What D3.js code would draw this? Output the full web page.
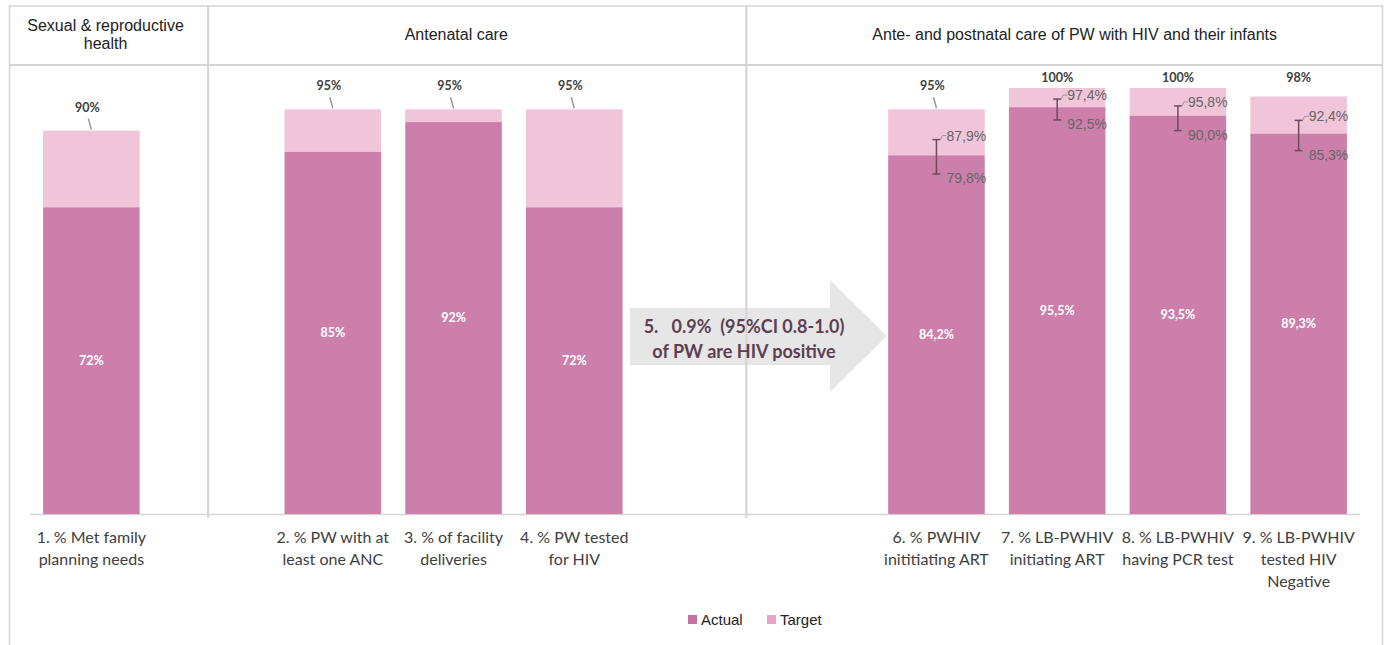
<!DOCTYPE html>
<html><head><meta charset="utf-8">
<script src="https://cdn.jsdelivr.net/npm/d3@7"></script>
<style>
html,body{margin:0;padding:0;background:#fff;}
svg{display:block;}
text{white-space:pre;}
</style></head>
<body>
<svg id="chart" width="1387" height="645"></svg>
<script>
// ---- data ----
const categories = ["1", "2", "3", "4", "6", "7", "8", "9"];
const categoryLabels = [
  ["1. % Met family", "planning needs"],
  ["2. % PW with at", "least one ANC"],
  ["3. % of facility", "deliveries"],
  ["4. % PW tested", "for HIV"],
  ["6. % PWHIV", "inititiating ART"],
  ["7. % LB-PWHIV", "initiating ART"],
  ["8. % LB-PWHIV", "having PCR test"],
  ["9. % LB-PWHIV", "tested HIV", "Negative"]
];
const actual = [72, 85, 92, 72, 84.2, 95.5, 93.5, 89.3];
const target = [90, 95, 95, 95, 95, 100, 100, 98];
const ciCategories = ["6", "7", "8", "9"];
const ciLower = [79.8, 92.5, 90.0, 85.3];
const ciUpper = [87.9, 97.4, 95.8, 92.4];
const groups = [
  {name: ["Sexual & reproductive", "health"], from: "1", to: "1"},
  {name: ["Antenatal care"], from: "2", to: "4"},
  {name: ["Ante- and postnatal care of PW with HIV and their infants"], from: "6", to: "9"}
];
const arrowText = ["5.   0.9%  (95%CI 0.8-1.0)", "of PW are HIV positive"];
const legendItems = ["Actual", "Target"];
const yTicks = [0, 100];

// ---- colours ----
const cActual = "#cd7fab", cTarget = "#f0c4d9";
const cLegActual = "#c472a2", cLegTarget = "#e9a2c9";
const cGrid = "#d4d4d4";

const svg = d3.select("#chart");

// slots with gaps for the layout
const slots = ["1", "g1", "2", "3", "4", "g2", "g3", "6", "7", "8", "9"];
const x = d3.scaleBand().domain(slots).range([31, 1359]).paddingInner(0.2).paddingOuter(0.1);
const y = d3.scaleLinear().domain(d3.extent(yTicks)).range([514, 88]);

const data = categories.map((c, i) => ({c, a: actual[i], t: target[i], lab: categoryLabels[i]}));

// frame
svg.append("line").attr("x1", 9.5).attr("x2", 9.5).attr("y1", 5).attr("y2", 645).attr("stroke", cGrid).attr("stroke-width", 1.5);
svg.append("line").attr("x1", 1382.5).attr("x2", 1382.5).attr("y1", 5).attr("y2", 645).attr("stroke", cGrid).attr("stroke-width", 1.5);
svg.append("line").attr("x1", 9).attr("x2", 1383).attr("y1", 6).attr("y2", 6).attr("stroke", cGrid).attr("stroke-width", 1.5);
svg.append("line").attr("x1", 9).attr("x2", 1383).attr("y1", 65).attr("y2", 65).attr("stroke", cGrid).attr("stroke-width", 2);

// arrow (behind dividers)
const ax0 = 630, ax1 = 830, atip = 887, ay = 336;
const ap = d3.path();
ap.moveTo(ax0, 308); ap.lineTo(ax1, 308); ap.lineTo(ax1, 280); ap.lineTo(atip, ay);
ap.lineTo(ax1, 392); ap.lineTo(ax1, 365); ap.lineTo(ax0, 365); ap.closePath();
svg.append("path").attr("d", ap.toString()).attr("fill", "#e6e6e6");

// group dividers
const divX = [(x("1") + x.bandwidth() + x("2")) / 2 - 4, (x("4") + x.bandwidth() + x("6")) / 2 - 9];
divX.forEach(dx => {
  svg.append("line").attr("x1", dx).attr("x2", dx).attr("y1", 6).attr("y2", 518)
    .attr("stroke", cGrid).attr("stroke-width", 2);
});

// arrow text over dividers
arrowText.forEach((t, i) => {
  svg.append("text").attr("x", 744).attr("y", 333 + i * 25).attr("text-anchor", "middle")
    .attr("font-family", "Lato, 'Open Sans', sans-serif").attr("font-weight", "bold").attr("font-size", 18)
    .attr("fill", "#5e3f52").text(t);
});

// header texts
const bounds = [9, divX[0], divX[1], 1383];
const headerShift = [-3, -21, 10];
groups.forEach((g, i) => {
  const cx = (bounds[i] + bounds[i + 1]) / 2 + headerShift[i];
  const n = g.name.length;
  g.name.forEach((line, j) => {
    svg.append("text").attr("x", cx).attr("y", 35 + (j - (n - 1) / 2) * 18 + 5)
      .attr("text-anchor", "middle").attr("font-family", "'Liberation Sans', Arial, sans-serif")
      .attr("font-size", 16).attr("fill", "#222").text(line);
  });
});

// baseline
svg.append("line").attr("x1", 30).attr("x2", 1360).attr("y1", y(0) + 0.5).attr("y2", y(0) + 0.5)
  .attr("stroke", cGrid).attr("stroke-width", 1.5);

// bars
const bars = svg.append("g");
bars.selectAll("rect.t").data(data).join("rect").attr("class", "t")
  .attr("x", d => x(d.c)).attr("width", x.bandwidth())
  .attr("y", d => y(d.t)).attr("height", d => y(d.a) - y(d.t)).attr("fill", cTarget);
bars.selectAll("rect.a").data(data).join("rect").attr("class", "a")
  .attr("x", d => x(d.c)).attr("width", x.bandwidth())
  .attr("y", d => y(d.a)).attr("height", d => y(0) - y(d.a)).attr("fill", cActual);

const fmt = v => Number.isInteger(v) ? v + "%" : v.toFixed(1).replace(".", ",") + "%";

// actual labels
bars.selectAll("text.al").data(data).join("text").attr("class", "al")
  .attr("x", d => x(d.c) + x.bandwidth() / 2).attr("y", d => (y(d.a) + y(0)) / 2 + 4)
  .attr("text-anchor", "middle").attr("font-family", "Lato, 'Open Sans', sans-serif")
  .attr("font-weight", "bold").attr("font-size", 12.5).attr("fill", "#fff").text(d => fmt(d.a));

// target labels
data.forEach(d => {
  const cx = x(d.c) + x.bandwidth() / 2;
  if (d.t >= 98) {
    svg.append("text").attr("x", cx).attr("y", y(100) - 6).attr("text-anchor", "middle")
      .attr("font-family", "Lato, 'Open Sans', sans-serif").attr("font-weight", "bold").attr("font-size", 12.5)
      .attr("fill", "#404040").text(fmt(d.t));
  } else {
    svg.append("text").attr("x", cx - 4).attr("y", y(d.t) - 19).attr("text-anchor", "middle")
      .attr("font-family", "Lato, 'Open Sans', sans-serif").attr("font-weight", "bold").attr("font-size", 12.5)
      .attr("fill", "#404040").text(fmt(d.t));
    svg.append("line").attr("x1", cx - 3).attr("x2", cx).attr("y1", y(d.t) - 12).attr("y2", y(d.t) - 1)
      .attr("stroke", "#9a9a9a").attr("stroke-width", 1.5);
  }
});

// error bars
ciCategories.forEach((c, i) => {
  const cx = x(c) + x.bandwidth() / 2;
  const yl = y(ciLower[i]), yu = y(ciUpper[i]);
  const g = svg.append("g").attr("stroke", "#6e4a5f").attr("stroke-width", 1.5);
  g.append("line").attr("x1", cx).attr("x2", cx).attr("y1", yu).attr("y2", yl);
  g.append("line").attr("x1", cx - 4).attr("x2", cx + 4).attr("y1", yu).attr("y2", yu);
  g.append("line").attr("x1", cx - 4).attr("x2", cx + 4).attr("y1", yl).attr("y2", yl);
  const conn = d3.path();
  conn.moveTo(cx + 4, yu); conn.lineTo(cx + 6, yu - 4); conn.lineTo(cx + 10, yu - 4);
  svg.append("path").attr("d", conn.toString()).attr("fill", "none").attr("stroke", "#999").attr("stroke-width", 1);
  const conn2 = d3.path();
  conn2.moveTo(cx + 4, yl); conn2.lineTo(cx + 6, yl + 4); conn2.lineTo(cx + 10, yl + 4);
  svg.append("path").attr("d", conn2.toString()).attr("fill", "none").attr("stroke", "#999").attr("stroke-width", 1);
  svg.append("text").attr("x", cx + 10).attr("y", yu + 1).attr("font-family", "'Liberation Sans', Arial, sans-serif")
    .attr("font-size", 14).attr("fill", "#666").text(ciUpper[i].toFixed(1).replace(".", ",") + "%");
  svg.append("text").attr("x", cx + 10).attr("y", yl + 9).attr("font-family", "'Liberation Sans', Arial, sans-serif")
    .attr("font-size", 14).attr("fill", "#666").text(ciLower[i].toFixed(1).replace(".", ",") + "%");
});

// category labels
data.forEach(d => {
  const cx = x(d.c) + x.bandwidth() / 2;
  d.lab.forEach((line, j) => {
    svg.append("text").attr("x", cx).attr("y", 543 + j * 22).attr("text-anchor", "middle")
      .attr("font-family", "Lato, 'Open Sans', sans-serif").attr("font-size", 16).attr("fill", "#404040").text(line);
  });
});

// legend
const leg = svg.append("g").attr("transform", "translate(688,613)");
const legX = d3.scaleOrdinal().domain(legendItems).range([0, 79]);
const legC = d3.scaleOrdinal().domain(legendItems).range([cLegActual, cLegTarget]);
legendItems.forEach(k => {
  leg.append("rect").attr("x", legX(k)).attr("y", 2).attr("width", 9).attr("height", 9).attr("fill", legC(k));
  leg.append("text").attr("x", legX(k) + 13).attr("y", 12).attr("font-family", "'Liberation Sans', Arial, sans-serif")
    .attr("font-size", 15).attr("fill", "#222").text(k);
});
</script>
</body></html>
